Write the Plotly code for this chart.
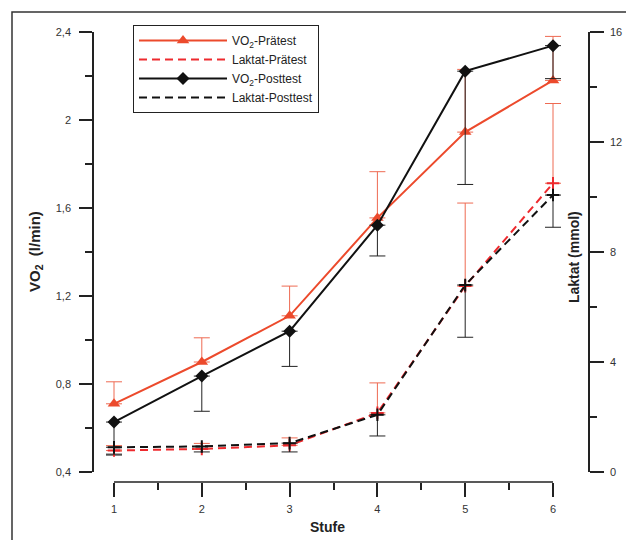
import plotly.graph_objects as go

# ---------------- data ----------------
stages = [1, 2, 3, 4, 5, 6]
x_tick_labels = ["1", "2", "3", "4", "5", "6"]
x_minor_ticks = [1.5, 2.5, 3.5, 4.5, 5.5]

vo2_pre = [0.71, 0.90, 1.11, 1.555, 1.945, 2.18]
vo2_pre_err = [0.10, 0.11, 0.135, 0.21, 0.285, 0.20]

vo2_post = [0.627, 0.836, 1.04, 1.522, 2.222, 2.338]
vo2_post_err = [0.15, 0.16, 0.16, 0.14, 0.515, 0.15]

lac_pre = [0.78, 0.84, 0.97, 2.15, 6.76, 10.5]
lac_pre_err = [0.18, 0.2, 0.27, 1.09, 3.02, 2.9]

lac_post = [0.9, 0.93, 1.05, 2.08, 6.8, 10.07]
lac_post_err = [0.25, 0.2, 0.32, 0.77, 1.9, 1.17]

y1_ticks = [0.4, 0.8, 1.2, 1.6, 2.0, 2.4]
y1_tick_labels = ["0,4", "0,8", "1,2", "1,6", "2", "2,4"]
y1_minor_ticks = [0.6, 1.0, 1.4, 1.8, 2.2]

y2_ticks = [0, 4, 8, 12, 16]
y2_tick_labels = ["0", "4", "8", "12", "16"]
y2_minor_ticks = [2, 6, 10, 14]

# ---------------- style ----------------
RED = "#ec4a2c"
RED_DASH = "#ee2a2e"
RED_ERR = "#ee6a52"
BLACK = "#111111"
AXIS = "#222222"
FONT = "Liberation Sans, Arial, sans-serif"
zeros = [0] * len(stages)

fig = go.Figure()

# VO2 Prätest
fig.add_trace(go.Scatter(
    x=stages, y=vo2_pre, name="VO<sub>2</sub>-Prätest", mode="lines+markers",
    line=dict(color=RED, width=2),
    marker=dict(symbol="triangle-up", size=11, color=RED),
    error_y=dict(type="data", symmetric=False, array=vo2_pre_err, arrayminus=zeros,
                 color=RED_ERR, thickness=1, width=8),
    cliponaxis=False, yaxis="y"))

# Laktat Prätest (line in legend)
fig.add_trace(go.Scatter(
    x=stages, y=lac_pre, name="Laktat-Prätest", mode="lines",
    line=dict(color=RED_DASH, width=2, dash="8px,5px"), yaxis="y2"))

# VO2 Posttest
fig.add_trace(go.Scatter(
    x=stages, y=vo2_post, name="VO<sub>2</sub>-Posttest", mode="lines+markers",
    line=dict(color=BLACK, width=2),
    marker=dict(symbol="diamond", size=10, color=BLACK),
    error_y=dict(type="data", symmetric=False, array=zeros, arrayminus=vo2_post_err,
                 color=AXIS, thickness=1, width=8),
    cliponaxis=False, yaxis="y"))

# Laktat Posttest (line in legend)
fig.add_trace(go.Scatter(
    x=stages, y=lac_post, name="Laktat-Posttest", mode="lines",
    line=dict(color=BLACK, width=2, dash="8px,5px"), yaxis="y2"))

# Laktat markers + error bars
fig.add_trace(go.Scatter(
    x=stages, y=lac_pre, mode="markers", showlegend=False,
    marker=dict(symbol="cross-thin", size=9, line=dict(color=RED_DASH, width=2)),
    error_y=dict(type="data", symmetric=False, array=lac_pre_err, arrayminus=zeros,
                 color=RED_ERR, thickness=1, width=8),
    cliponaxis=False, yaxis="y2"))
fig.add_trace(go.Scatter(
    x=stages, y=lac_post, mode="markers", showlegend=False,
    marker=dict(symbol="cross-thin", size=9, line=dict(color=BLACK, width=2)),
    error_y=dict(type="data", symmetric=False, array=zeros, arrayminus=lac_post_err,
                 color=AXIS, thickness=1, width=8),
    cliponaxis=False, yaxis="y2"))

# page body has an 8px margin, so the figure is sized/offset to compensate
OFF = 8
W, H = 634 - OFF, 540 - OFF
ML, MR, MT, MB = 94 - OFF, 46, 32 - OFF, 58
PW = W - ML - MR
plot_h = H - MT - MB  # 450
ydom0 = 10 / plot_h

tickfont = dict(family=FONT, size=11, color="#333333")

fig.update_layout(
    width=W, height=H,
    margin=dict(l=ML, r=MR, t=MT, b=MB),
    paper_bgcolor="white", plot_bgcolor="white",
    font=dict(family=FONT, color="#222222"),
    xaxis=dict(
        range=[1 - 20 / 87.8, 6 + 35 / 87.8], domain=[0, 1],
        anchor="free", position=0,
        showline=False, showgrid=False, zeroline=False,
        tickmode="array", tickvals=stages, ticktext=x_tick_labels,
        ticks="outside", ticklen=14, tickwidth=1.5, tickcolor=AXIS,
        minor=dict(tickvals=x_minor_ticks, ticks="outside", ticklen=7,
                   tickwidth=1.5, tickcolor=AXIS),
        tickfont=tickfont, ticklabelstandoff=3,
    ),
    yaxis=dict(
        range=[0.4, 2.4], domain=[ydom0, 1],
        showline=True, linewidth=1.5, linecolor=AXIS,
        showgrid=False, zeroline=False,
        tickmode="array", tickvals=y1_ticks, ticktext=y1_tick_labels,
        ticks="outside", ticklen=13, tickwidth=1.5, tickcolor=AXIS,
        minor=dict(tickvals=y1_minor_ticks, ticks="outside", ticklen=7,
                   tickwidth=1.5, tickcolor=AXIS),
        tickfont=tickfont, ticklabelstandoff=6,
    ),
    yaxis2=dict(
        range=[0, 16], domain=[ydom0, 1], overlaying="y", side="right", anchor="x",
        showline=True, linewidth=1.5, linecolor=AXIS,
        showgrid=False, zeroline=False,
        tickmode="array", tickvals=y2_ticks, ticktext=y2_tick_labels,
        ticks="outside", ticklen=14, tickwidth=1.5, tickcolor=AXIS,
        minor=dict(tickvals=y2_minor_ticks, ticks="outside", ticklen=7,
                   tickwidth=1.5, tickcolor=AXIS),
        tickfont=tickfont, ticklabelstandoff=4,
    ),
    legend=dict(
        x=(133 - 94) / PW, y=1 + 7 / plot_h,
        xanchor="left", yanchor="top",
        bordercolor="#222222", borderwidth=1, bgcolor="white",
        font=dict(family=FONT, size=12, color="#222222"),
        itemwidth=88, tracegroupgap=0,
    ),
    showlegend=True,
)

# x axis line between first and last stage
fig.add_shape(type="line", xref="x", yref="paper", x0=stages[0], x1=stages[-1],
              y0=0, y1=0, line=dict(color=AXIS, width=1.5))

# outer frame (cropped on right/bottom)
fig.add_shape(type="rect", xref="paper", yref="paper",
              x0=(12 - 94) / PW, x1=1.3,
              y0=-0.3, y1=1 + (32 - 12) / plot_h,
              line=dict(color="#333333", width=1.5), layer="below")

# axis titles (positions given in reference-window pixels)
def px_x(X):
    return (X - 94) / PW

def px_y(Y):
    return 1 - (Y - 32) / plot_h

fig.add_annotation(text="<b>VO<sub>2</sub>  (l/min)</b>", xref="paper", yref="paper",
                   x=px_x(35), y=px_y(252),
                   textangle=-90, showarrow=False, xanchor="center", yanchor="middle",
                   font=dict(family=FONT, size=15, color="#222222"))
fig.add_annotation(text="<b>Laktat (mmol)</b>", xref="paper", yref="paper",
                   x=px_x(574), y=px_y(257),
                   textangle=-90, showarrow=False, xanchor="center", yanchor="middle",
                   font=dict(family=FONT, size=14, color="#222222"))
fig.add_annotation(text="<b>Stufe</b>", xref="paper", yref="paper",
                   x=px_x(327), y=px_y(527),
                   showarrow=False, xanchor="center", yanchor="middle",
                   font=dict(family=FONT, size=14, color="#222222"))

fig.write_html("out.html")
